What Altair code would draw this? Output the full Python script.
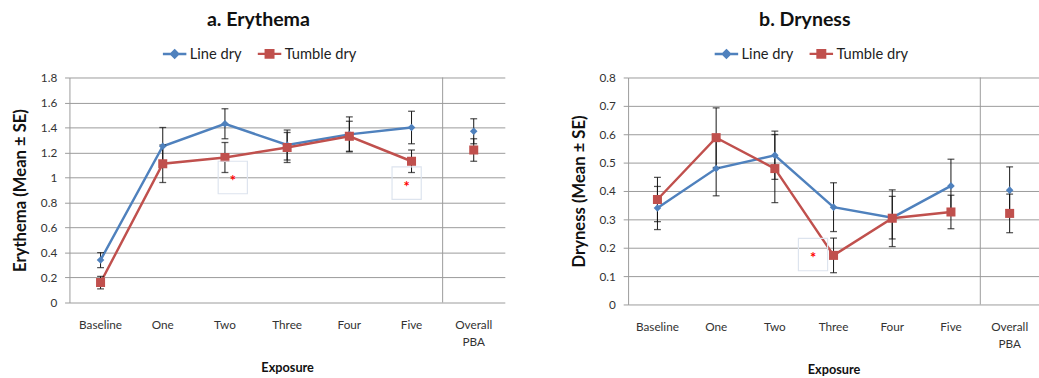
import altair as alt
import pandas as pd

categories = ["Baseline", "One", "Two", "Three", "Four", "Five", "Overall PBA"]
series = ["Line dry", "Tumble dry"]
colors = ["#4f81bd", "#c0504d"]

# a. Erythema
ery_line_mean = [0.34, 1.25, 1.43, 1.26, 1.345, 1.40, 1.37]
ery_line_se = [0.06, 0.15, 0.12, 0.12, 0.14, 0.13, 0.10]
ery_tumble_mean = [0.16, 1.11, 1.16, 1.24, 1.33, 1.13, 1.22]
ery_tumble_se = [0.05, 0.15, 0.12, 0.12, 0.12, 0.09, 0.09]
ery_ticks = [0, 0.2, 0.4, 0.6, 0.8, 1, 1.2, 1.4, 1.6, 1.8]

# b. Dryness
dry_line_mean = [0.34, 0.479, 0.526, 0.343, 0.306, 0.418, 0.403]
dry_line_se = [0.076, 0.096, 0.085, 0.086, 0.075, 0.094, 0.082]
dry_tumble_mean = [0.37, 0.588, 0.479, 0.173, 0.304, 0.326, 0.321]
dry_tumble_se = [0.078, 0.105, 0.12, 0.061, 0.10, 0.059, 0.068]
dry_ticks = [0, 0.1, 0.2, 0.3, 0.4, 0.5, 0.6, 0.7, 0.8]

# significance markers (category, value)
ery_annot = [("Two", 1.0), ("Five", 0.955)]
dry_annot = [("Three", 0.176)]

FONT = "Lato"
legend_paths = [
    "M-1,0H1M0,-0.3L0.3,0L0,0.3L-0.3,0Z",
    "M-1,0H1M-0.32,-0.32H0.32V0.32H-0.32Z",
]


def panel(title, ytitle, ymax, yticks, lm, ls, tm, ts, width, height,
          xrange, annots, annot_dx, legend_x):
    rows = []
    for s, means, ses in [("Line dry", lm, ls), ("Tumble dry", tm, ts)]:
        for c, m, e in zip(categories, means, ses):
            rows.append({"cat": c, "series": s, "mean": m,
                         "lo": m - e, "hi": m + e})
    df = pd.DataFrame(rows)

    sc = dict(type="band", domain=categories, paddingInner=0, paddingOuter=0)
    if xrange is not None:
        sc["range"] = xrange
    xscale = alt.Scale(**sc)
    xaxis = alt.Axis(
        title="Exposure", labelAngle=0, ticks=False, domain=False, grid=False,
        labelFontSize=12, labelFont=FONT, labelColor="#333", labelPadding=18,
        labelLineHeight=17,
        labelExpr="datum.value == 'Overall PBA' ? ['Overall', 'PBA'] : datum.value",
        titleFont=FONT, titleFontSize=13, titleFontWeight="bold",
        titleColor="#111", titlePadding=15,
    )
    yscale = alt.Scale(domain=[0, ymax], nice=False, zero=True)
    yaxis = alt.Axis(
        title=ytitle, values=yticks, format="~g", grid=True,
        gridColor="#9a9a9a", gridWidth=1, domainColor="#9a9a9a",
        tickColor="#9a9a9a", tickSize=5, labelFontSize=12, labelFont=FONT,
        labelColor="#333", labelPadding=8, titleFont=FONT, titleFontSize=17,
        titleFontWeight="bold", titleColor="#111", titlePadding=11,
    )

    def X(**kw):
        return alt.X("cat:N", scale=xscale, axis=xaxis, sort=categories, **kw)

    def Y(field):
        return alt.Y(f"{field}:Q", scale=yscale, axis=yaxis)

    base = alt.Chart(df)
    layers = []

    sep = alt.Chart(pd.DataFrame({"cat": ["Overall PBA"]})).mark_rule(
        color="#9a9a9a", strokeWidth=1
    ).encode(x=X(bandPosition=0), y=alt.Y(datum=0, scale=yscale, axis=yaxis),
             y2=alt.Y2(datum=ymax))
    layers.append(sep)

    for s, col in zip(series, colors):
        layers.append(
            base.transform_filter(
                f"datum.series == '{s}' && datum.cat != 'Overall PBA'"
            ).mark_line(color=col, strokeWidth=2.5).encode(x=X(), y=Y("mean"))
        )

    layers.append(base.mark_rule(color="#111", strokeWidth=1).encode(
        x=X(), y=Y("lo"), y2=alt.Y2("hi")))
    layers.append(base.mark_tick(color="#111", thickness=1.3, size=7).encode(
        x=X(), y=Y("lo")))
    layers.append(base.mark_tick(color="#111", thickness=1.3, size=7).encode(
        x=X(), y=Y("hi")))

    layers.append(base.transform_filter("datum.series == 'Line dry'").mark_point(
        shape="diamond", filled=True, size=60, opacity=1, color=colors[0]
    ).encode(x=X(), y=Y("mean")))
    layers.append(base.transform_filter("datum.series == 'Tumble dry'").mark_point(
        shape="square", filled=True, size=85, opacity=1, color=colors[1]
    ).encode(x=X(), y=Y("mean")))

    # significance annotations
    for (c, v), dx in zip(annots, annot_dx):
        adf = pd.DataFrame({"cat": [c], "v": [v]})
        layers.append(alt.Chart(adf).mark_point(
            shape="M-0.9,-1H0.9V1H-0.9Z", size=1100, filled=False,
            stroke="#dde4ee", strokeWidth=1.2, opacity=1, xOffset=dx
        ).encode(x=X(), y=Y("v")))
        layers.append(alt.Chart(adf).mark_text(
            text="*", color="#ff0000", fontSize=15, fontWeight="bold", font=FONT,
            dx=dx, dy=4, baseline="middle", align="center"
        ).encode(x=X(), y=Y("v")))

    leg = alt.Legend(
        orient="none", legendX=legend_x, legendY=-38, direction="horizontal",
        title=None, symbolSize=576, symbolStrokeWidth=2.5, labelFontSize=15,
        labelFont=FONT, labelColor="#222", columnPadding=10, labelOffset=2,
    )
    layers.append(base.transform_filter("false").mark_point(
        filled=True, opacity=1, strokeWidth=2.5
    ).encode(
        x=X(), y=Y("mean"),
        color=alt.Color("series:N", scale=alt.Scale(domain=series, range=colors), legend=leg),
        stroke=alt.Stroke("series:N", scale=alt.Scale(domain=series, range=colors), legend=leg),
        shape=alt.Shape("series:N", scale=alt.Scale(domain=series, range=legend_paths), legend=leg),
    ))

    return alt.layer(*layers).properties(
        width=width, height=height,
        title=alt.TitleParams(title, font=FONT, fontSize=20, fontWeight="bold",
                              color="#111", anchor="middle", frame="bounds",
                              offset=11),
    )


left = panel("a. Erythema", "Erythema (Mean ± SE)", 1.8, ery_ticks,
             ery_line_mean, ery_line_se, ery_tumble_mean, ery_tumble_se,
             445, 230, None, ery_annot, [8, -5], 94)
right = panel("b. Dryness", "Dryness (Mean ± SE)", 0.8, dry_ticks,
              dry_line_mean, dry_line_se, dry_tumble_mean, dry_tumble_se,
              409, 232, [0, 420], dry_annot, [-21], 87)

chart = alt.hconcat(left, right, spacing=67).resolve_scale(
    color="independent", stroke="independent", shape="independent",
    x="independent", y="independent",
).properties(
    padding={"left": 12, "top": 6, "right": 0, "bottom": 0},
    background="white",
).configure_view(stroke=None)

chart.save("out.html", embed_options={"renderer": "svg", "actions": False})
